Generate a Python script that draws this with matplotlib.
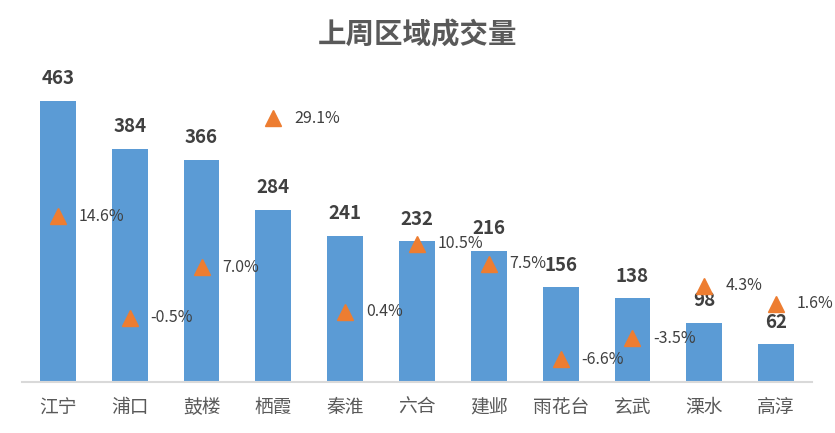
import matplotlib
matplotlib.use("Agg")
import matplotlib.pyplot as plt

plt.rcParams['font.family'] = ['Noto Sans CJK SC', 'DejaVu Sans']

# ---- Data ----
districts = ["江宁", "浦口", "鼓楼", "栖霞", "秦淮", "六合", "建邺", "雨花台", "玄武", "溧水", "高淳"]
volumes = [463, 384, 366, 284, 241, 232, 216, 156, 138, 98, 62]
changes = [14.6, -0.5, 7.0, 29.1, 0.4, 10.5, 7.5, -6.6, -3.5, 4.3, 1.6]

BAR_COLOR = "#5B9BD5"
MARK_COLOR = "#ED7D31"
TEXT_DARK = "#404040"
TEXT_GREY = "#595959"

fig = plt.figure(figsize=(8.35, 4.33), dpi=100)
ax = fig.add_axes([0.0263, 0.1178, 0.9462, 0.7009])
x = list(range(len(districts)))

ax.bar(x, volumes, width=0.5, color=BAR_COLOR, zorder=2)
ax.set_ylim(0, 500)
ax.set_xlim(-0.5, len(districts) - 0.5)
ax.set_yticks([])
ax.set_xticks(x)
ax.set_xticklabels(districts, fontsize=13.5, color=TEXT_GREY)
ax.tick_params(axis="x", length=0, pad=11)
for s in ("top", "right", "left"):
    ax.spines[s].set_visible(False)
ax.spines["bottom"].set_color("#D9D9D9")
ax.spines["bottom"].set_linewidth(1.5)

for xi, v in zip(x, volumes):
    ax.annotate(f"{v}", (xi, v), xytext=(0, 9), textcoords="offset points",
                ha="center", va="bottom", fontsize=13.5, fontweight="bold",
                color=TEXT_DARK)

# percent change on a hidden secondary axis
ax2 = ax.twinx()
ax2.set_ylim(-10, 35)
ax2.axis("off")
ax2.plot(x, changes, linestyle="none", marker="^", markersize=12,
         color=MARK_COLOR, zorder=3)
for xi, c in zip(x, changes):
    ax2.annotate(f"{c:.1f}%", (xi, c), xytext=(15, 0), textcoords="offset points",
                 ha="left", va="center", fontsize=11.5, color=TEXT_DARK)

fig.text(0.5, 0.918, "上周区域成交量", ha="center", va="center",
         fontsize=20.5, fontweight="bold", color=TEXT_GREY)

fig.savefig("out.png", dpi=100)
